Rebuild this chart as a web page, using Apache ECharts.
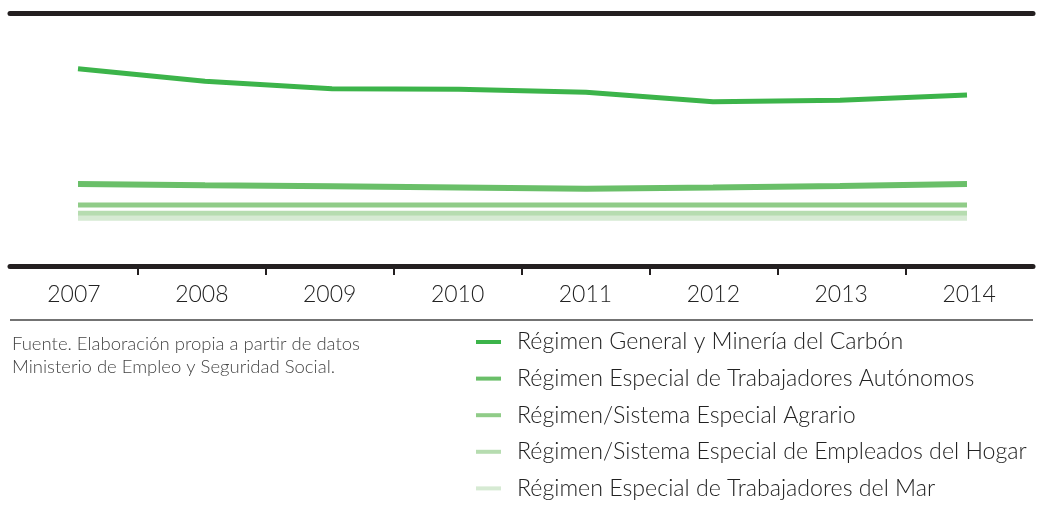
<!DOCTYPE html>
<html>
<head>
<meta charset="utf-8">
<script src="https://cdn.jsdelivr.net/npm/echarts@6/dist/echarts.min.js"></script>
<style>
  html, body { margin: 0; padding: 0; background: #fff; }
  #chart { width: 1041px; height: 517px; }
</style>
</head>
<body>
<div id="chart"></div>
<script>
// años
var years = ['2007', '2008', '2009', '2010', '2011', '2012', '2013', '2014'];

// afiliados (millones)
var generalCarbon = [14.3, 13.1, 12.4, 12.35, 12.05, 11.15, 11.3, 11.8];
var autonomos = [3.33, 3.21, 3.11, 3.0, 2.89, 3.0, 3.14, 3.33];
var agrario = [1.33, 1.33, 1.33, 1.33, 1.33, 1.33, 1.33, 1.33];
var hogar = [0.54, 0.54, 0.54, 0.54, 0.54, 0.54, 0.54, 0.54];
var mar = [0.07, 0.07, 0.07, 0.07, 0.07, 0.07, 0.07, 0.07];

var names = [
    'Régimen General y Minería del Carbón',
    'Régimen Especial de Trabajadores Autónomos',
    'Régimen/Sistema Especial Agrario',
    'Régimen/Sistema Especial de Empleados del Hogar',
    'Régimen Especial de Trabajadores del Mar'
];
var colors = ['#3cb44a', '#6abf69', '#90cc88', '#b6dcb0', '#d6ead3'];
var widths = [5, 6, 5, 5, 5];
var seriesData = [generalCarbon, autonomos, agrario, hogar, mar];

var font = 'Lato, "Source Sans Pro", sans-serif';
var chart = echarts.init(document.getElementById('chart'));

var series = [];
for (var i = 0; i < names.length; i++) {
    series.push({
        name: names[i],
        type: 'line',
        xAxisIndex: 0,
        yAxisIndex: 0,
        symbol: 'none',
        color: colors[i],
        lineStyle: { width: widths[i], color: colors[i] },
        data: seriesData[i],
        z: 10 - i
    });
}

chart.setOption({
    animation: false,
    grid: [
        { left: 78, right: 74, top: 13, bottom: 298 },
        { left: 10, right: 8, top: 13, bottom: 298 },
        // solo para las marcas entre años
        { left: 138, right: 135, top: 13, bottom: 298 }
    ],
    xAxis: [
        {
            gridIndex: 0, type: 'category', data: years, boundaryGap: false,
            show: false
        },
        {
            gridIndex: 1, type: 'category', data: years, boundaryGap: true,
            position: 'bottom', offset: 47,
            axisLine: { show: true, onZero: false, lineStyle: { color: '#231f20', width: 5 } },
            axisTick: { show: false },
            axisLabel: { color: '#222', fontFamily: font, fontWeight: 300, fontSize: 23, margin: 17, interval: 0 }
        },
        {
            gridIndex: 1, type: 'category', data: years, position: 'top',
            axisLine: { show: true, onZero: false, lineStyle: { color: '#231f20', width: 5 } },
            axisTick: { show: false },
            axisLabel: { show: false }
        },
        {
            gridIndex: 2, type: 'category', data: years.slice(1), boundaryGap: false,
            position: 'bottom', offset: 47, z: 3,
            axisLine: { show: false, onZero: false },
            axisTick: { show: true, length: 9, lineStyle: { color: '#231f20', width: 2 }, interval: 0 },
            axisLabel: { show: false }
        }
    ],
    yAxis: [
        { gridIndex: 0, type: 'value', min: 0, max: 19.6, show: false },
        { gridIndex: 1, type: 'value', min: 0, max: 1, show: false },
        { gridIndex: 2, type: 'value', min: 0, max: 1, show: false }
    ],
    legend: {
        orient: 'vertical',
        left: 476,
        top: 329,
        padding: 0,
        icon: 'rect',
        itemWidth: 25,
        itemHeight: 4,
        itemGap: 10.6,
        textStyle: { color: '#222', fontFamily: font, fontWeight: 300, fontSize: 23.2, lineHeight: 26, padding: [0, 0, 0, 11] },
        data: names
    },
    graphic: [
        {
            type: 'line',
            shape: { x1: 10, y1: 320, x2: 1033, y2: 320 },
            style: { stroke: '#444', lineWidth: 1.5 }
        },
        {
            type: 'text',
            left: 12,
            top: 333,
            style: {
                text: 'Fuente. Elaboración propia a partir de datos\nMinisterio de Empleo y Seguridad Social.',
                fill: '#444',
                font: '300 18.5px ' + font,
                lineHeight: 23
            }
        }
    ],
    series: series
});
</script>
</body>
</html>
